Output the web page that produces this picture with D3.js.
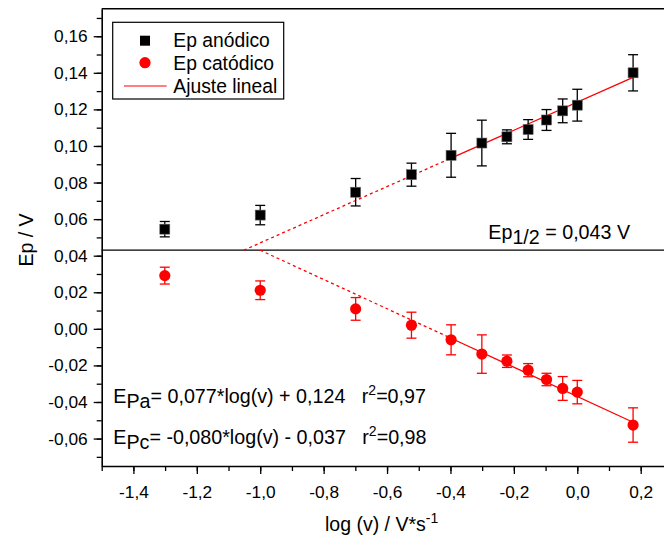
<!DOCTYPE html>
<html>
<head>
<meta charset="utf-8">
<script src="https://cdn.jsdelivr.net/npm/d3@7"></script>
<style>
  body { margin: 0; background: #fff; }
  svg { display: block; font-family: "Liberation Sans", Arial, sans-serif; }
  text { white-space: pre; }
</style>
</head>
<body>
<div id="chart"></div>
<script>
// log of scan rate (V/s): 0.05 ... 1.5
const logV = [-1.301, -1.0, -0.699, -0.523, -0.398, -0.301, -0.222, -0.155, -0.097, -0.046, 0.0, 0.176];
const epAnodic = [0.0545, 0.0622, 0.0747, 0.0843, 0.0949, 0.1016, 0.1050, 0.1090, 0.1142, 0.1192, 0.1223, 0.1400];
const errAnodic = [0.0042, 0.0053, 0.0075, 0.0063, 0.0120, 0.0125, 0.0038, 0.0054, 0.0057, 0.0065, 0.0087, 0.0099];
const epCathodic = [0.0291, 0.0211, 0.0109, 0.0020, -0.0060, -0.0138, -0.0177, -0.0226, -0.0277, -0.0326, -0.0346, -0.0526];
const errCathodic = [0.0046, 0.0051, 0.0062, 0.0071, 0.0082, 0.0105, 0.0034, 0.0036, 0.0034, 0.0065, 0.0064, 0.0094];

// fits: slope, intercept
const fitAnodic = [0.077, 0.124];
const fitCathodic = [-0.080, -0.037];
const epHalf = 0.043;
const fitStart = -0.398;   // solid part of the fit starts here
const fitEnd = 0.176;

const xTicks = [-1.4, -1.2, -1.0, -0.8, -0.6, -0.4, -0.2, 0.0, 0.2];
const yTicks = [-0.06, -0.04, -0.02, 0.00, 0.02, 0.04, 0.06, 0.08, 0.10, 0.12, 0.14, 0.16];

const W = 664, H = 543;
const svg = d3.select('#chart').append('svg')
    .attr('width', W).attr('height', H);

const x = d3.scaleLinear().domain([-1.5, 0.3]).range([101.7, 672.4]);
const y = d3.scaleLinear().domain([-0.075, 0.175]).range([466, 8.8]);

const loc = d3.formatLocale({decimal: ',', thousands: '.', grouping: [3], currency: ['', ''], minus: '-'});
const fx = loc.format('.1f');
const fy = loc.format('.2f');

// frame (top and right)
svg.append('path')
    .attr('d', `M${x(-1.5)},${y(0.175)}H${x(0.3)}V${y(-0.075)}`)
    .attr('fill', 'none').attr('stroke', '#000').attr('stroke-width', 1.6);

// minor ticks
const xMinor = d3.range(-1.5, 0.31, 0.1).map(d => +d.toFixed(2));
const yMinor = d3.range(-0.07, 0.171, 0.01).map(d => +d.toFixed(3));

svg.append('g')
    .attr('transform', `translate(0,${y(-0.075)})`)
    .call(d3.axisBottom(x).tickValues(xMinor).tickSize(5).tickFormat(''))
    .call(g => g.select('.domain').remove());
svg.append('g')
    .attr('transform', `translate(${x(-1.5)},0)`)
    .call(d3.axisLeft(y).tickValues(yMinor).tickSize(5).tickFormat(''))
    .call(g => g.select('.domain').remove());

const xAxis = svg.append('g')
    .attr('transform', `translate(0,${y(-0.075)})`)
    .call(d3.axisBottom(x).tickValues(xTicks).tickSize(8).tickPadding(12).tickFormat(fx).tickSizeOuter(0));
const yAxis = svg.append('g')
    .attr('transform', `translate(${x(-1.5)},0)`)
    .call(d3.axisLeft(y).tickValues(yTicks).tickSize(8).tickPadding(6).tickFormat(fy).tickSizeOuter(0));

[xAxis, yAxis].forEach(g => {
    g.selectAll('text').attr('font-size', 17.3).attr('fill', '#000')
        .style('font-family', '"Liberation Sans", Arial, sans-serif');
    g.select('.domain').attr('stroke-width', 1.6);
});
svg.selectAll('.tick line').attr('stroke-width', 1.3);

// Ep1/2 horizontal line
svg.append('line')
    .attr('x1', x(-1.5)).attr('x2', x(0.3))
    .attr('y1', y(epHalf)).attr('y2', y(epHalf))
    .attr('stroke', '#000').attr('stroke-width', 1.3);

// fit lines
function fitLine(fit, x0, x1, dashed) {
    svg.append('line')
        .attr('x1', x(x0)).attr('y1', y(fit[0] * x0 + fit[1]))
        .attr('x2', x(x1)).attr('y2', y(fit[0] * x1 + fit[1]))
        .attr('stroke', '#ff0000').attr('stroke-width', 1.3)
        .attr('stroke-dasharray', dashed ? '3,3' : null);
}
[fitAnodic, fitCathodic].forEach(fit => {
    const xCross = (epHalf - fit[1]) / fit[0];
    fitLine(fit, xCross, fitStart, true);
    fitLine(fit, fitStart, fitEnd, false);
});

// error bars
function errorBars(vals, errs, color) {
    const g = svg.append('g').attr('stroke', color).attr('stroke-width', 1.3);
    logV.forEach((lv, i) => {
        const cx = x(lv), top = y(vals[i] + errs[i]), bot = y(vals[i] - errs[i]);
        g.append('line').attr('x1', cx).attr('x2', cx).attr('y1', top).attr('y2', bot);
        g.append('line').attr('x1', cx - 5).attr('x2', cx + 5).attr('y1', top).attr('y2', top);
        g.append('line').attr('x1', cx - 5).attr('x2', cx + 5).attr('y1', bot).attr('y2', bot);
    });
}
errorBars(epAnodic, errAnodic, '#000');
errorBars(epCathodic, errCathodic, '#ff0000');

svg.append('g').selectAll('rect')
    .data(logV.map((lv, i) => [lv, epAnodic[i]]))
    .join('rect')
    .attr('x', d => x(d[0]) - 5).attr('y', d => y(d[1]) - 5)
    .attr('width', 10).attr('height', 10)
    .attr('fill', '#000').attr('stroke', '#666').attr('stroke-width', 0.6);

svg.append('g').selectAll('circle')
    .data(logV.map((lv, i) => [lv, epCathodic[i]]))
    .join('circle')
    .attr('cx', d => x(d[0])).attr('cy', d => y(d[1]))
    .attr('r', 5.6).attr('fill', '#ff0000');

// legend
const lg = svg.append('g');
lg.append('rect').attr('x', 112.7).attr('y', 22.3).attr('width', 171).attr('height', 76.7)
    .attr('fill', '#fff').attr('stroke', '#000').attr('stroke-width', 1.2);
lg.append('rect').attr('x', 140).attr('y', 35.7).attr('width', 10).attr('height', 10).attr('fill', '#000');
lg.append('circle').attr('cx', 145).attr('cy', 62.7).attr('r', 5.6).attr('fill', '#ff0000');
lg.append('line').attr('x1', 124).attr('x2', 166.7).attr('y1', 86).attr('y2', 86)
    .attr('stroke', '#ff0000').attr('stroke-width', 1.2);
const legendLabels = ['Ep anódico', 'Ep catódico', 'Ajuste lineal'];
const legendBase = [46.7, 69.5, 93];
legendLabels.forEach((t, i) => {
    lg.append('text').attr('x', 173.3).attr('y', legendBase[i])
        .attr('font-size', 19.3).text(t);
});

// Ep1/2 label
const t1 = svg.append('text').attr('x', 488.3).attr('y', 238.5).attr('font-size', 19.7);
t1.append('tspan').text('Ep');
t1.append('tspan').attr('dy', 5).text('1/2');
t1.append('tspan').attr('dy', -5).text(' = 0,043 V');

// fit equations
function equation(yb, sub, body, r2) {
    const t = svg.append('text').attr('x', 113.3).attr('y', yb).attr('font-size', 19.7);
    t.append('tspan').text('E');
    t.append('tspan').attr('dy', 5).text(sub);
    t.append('tspan').attr('dy', -5).text(body + '   r');
    t.append('tspan').attr('dy', -8).attr('font-size', 14).text('2');
    t.append('tspan').attr('dy', 8).text('=' + r2);
}
equation(403.3, 'Pa', '= 0,077*log(v) + 0,124', '0,97');
equation(444, 'Pc', '= -0,080*log(v) - 0,037', '0,98');

// axis titles
const xt = svg.append('text').attr('x', 325).attr('y', 531).attr('font-size', 19.5);
xt.append('tspan').text('log (v) / V*s');
xt.append('tspan').attr('dy', -8).attr('font-size', 14).text('-1');

svg.append('text')
    .attr('transform', 'translate(33,240) rotate(-90)')
    .attr('text-anchor', 'middle').attr('font-size', 19.5)
    .text('Ep / V');
</script>
</body>
</html>
